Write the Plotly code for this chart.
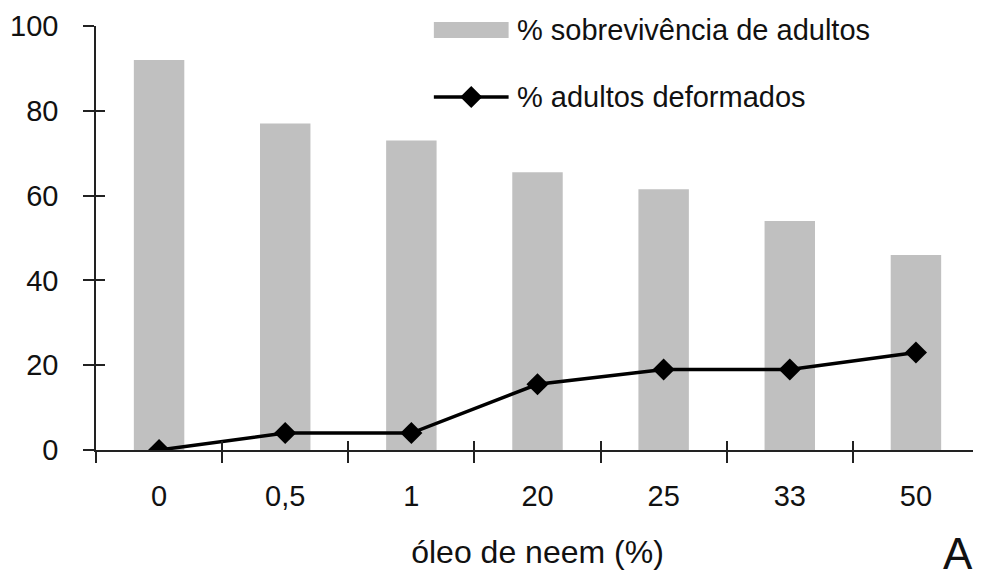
import plotly.graph_objects as go

categories = ["0", "0,5", "1", "20", "25", "33", "50"]
sobrevivencia = [92, 77, 73, 65.5, 61.5, 54, 46]
deformados = [0, 4, 4, 15.5, 19, 19, 23]
y_ticks = [0, 20, 40, 60, 80, 100]

FONT = "Liberation Sans, Arial, sans-serif"
AX = "#222"

def px(x):
    return (x - 93) / 886

def py(y):
    return (450 - y) / 424

fig = go.Figure()
fig.add_trace(go.Bar(
    x=categories, y=sobrevivencia, name="% sobrevivência de adultos",
    marker=dict(color="#c0c0c0", line=dict(width=0)), width=0.4,
))
fig.add_trace(go.Scatter(
    x=categories, y=deformados, name="% adultos deformados",
    mode="lines+markers", line=dict(color="black", width=3.5),
    marker=dict(symbol="diamond", size=17, color="black"),
))
# invisible helper trace for inside tick overlay axes
fig.add_trace(go.Scatter(
    x=categories, y=deformados, xaxis="x3", yaxis="y3",
    mode="markers", marker=dict(opacity=0), showlegend=False, hoverinfo="skip",
))

fig.update_layout(
    width=973, height=570,
    margin=dict(l=85, r=2, t=18, b=128),
    paper_bgcolor="white", plot_bgcolor="white",
    showlegend=False,
    font=dict(family=FONT, color="#111"),
    xaxis=dict(
        type="category", range=[-0.5, 6.5], tickson="boundaries",
        ticks="outside", ticklen=11, tickwidth=1.5, tickcolor=AX,
        showline=True, linecolor=AX, linewidth=1.5,
        showgrid=False, tickfont=dict(size=29, family=FONT),
        ticklabelstandoff=19,
        title=dict(text="óleo de neem (%)", font=dict(size=32, family=FONT), standoff=30),
    ),
    yaxis=dict(
        range=[0, 100], tickvals=y_ticks,
        ticks="outside", ticklen=11, tickwidth=1.5, tickcolor=AX,
        showline=True, linecolor=AX, linewidth=1.5,
        showgrid=False, zeroline=False, tickfont=dict(size=29, family=FONT),
        ticklabelstandoff=19,
    ),
    xaxis3=dict(
        type="category", overlaying="x", anchor="y", range=[-0.5, 6.5], tickson="boundaries",
        categoryarray=categories, categoryorder="array",
        ticks="inside", ticklen=9, tickwidth=1.5, tickcolor=AX,
        showticklabels=False, showline=False, showgrid=False,
    ),
    yaxis3=dict(
        overlaying="y", anchor="x", range=[0, 100], tickvals=y_ticks,
        ticks="inside", ticklen=9, tickwidth=1.5, tickcolor=AX,
        showticklabels=False, showline=False, showgrid=False, zeroline=False,
    ),
    xaxis2=dict(overlaying="x", range=[0, 1], visible=False),
    yaxis2=dict(overlaying="y", range=[0, 1], visible=False),
)

# custom legend
fig.add_shape(type="rect", xref="paper", yref="paper",
              x0=px(432), x1=px(507), y0=py(38), y1=py(22),
              fillcolor="#c0c0c0", line=dict(width=0))
fig.add_shape(type="line", xref="paper", yref="paper",
              x0=px(432), x1=px(507), y0=py(97), y1=py(97),
              line=dict(color="black", width=3.5))
fig.add_trace(go.Scatter(
    x=[px(469.5)], y=[py(97)], xaxis="x2", yaxis="y2",
    mode="markers", marker=dict(symbol="diamond", size=17, color="black"),
    showlegend=False, hoverinfo="skip"))
fig.add_annotation(text="% sobrevivência de adultos", xref="paper", yref="paper",
                   x=px(513), y=py(30), xanchor="left", yanchor="middle",
                   showarrow=False, font=dict(size=29, family=FONT, color="#111"))
fig.add_annotation(text="% adultos deformados", xref="paper", yref="paper",
                   x=px(513), y=py(97), xanchor="left", yanchor="middle",
                   showarrow=False, font=dict(size=29, family=FONT, color="#111"))
fig.add_annotation(text="A", xref="paper", yref="paper",
                   x=px(958), y=py(553), xanchor="center", yanchor="middle",
                   showarrow=False, font=dict(size=44, family=FONT, color="#111"))

fig.write_html("out.html")
